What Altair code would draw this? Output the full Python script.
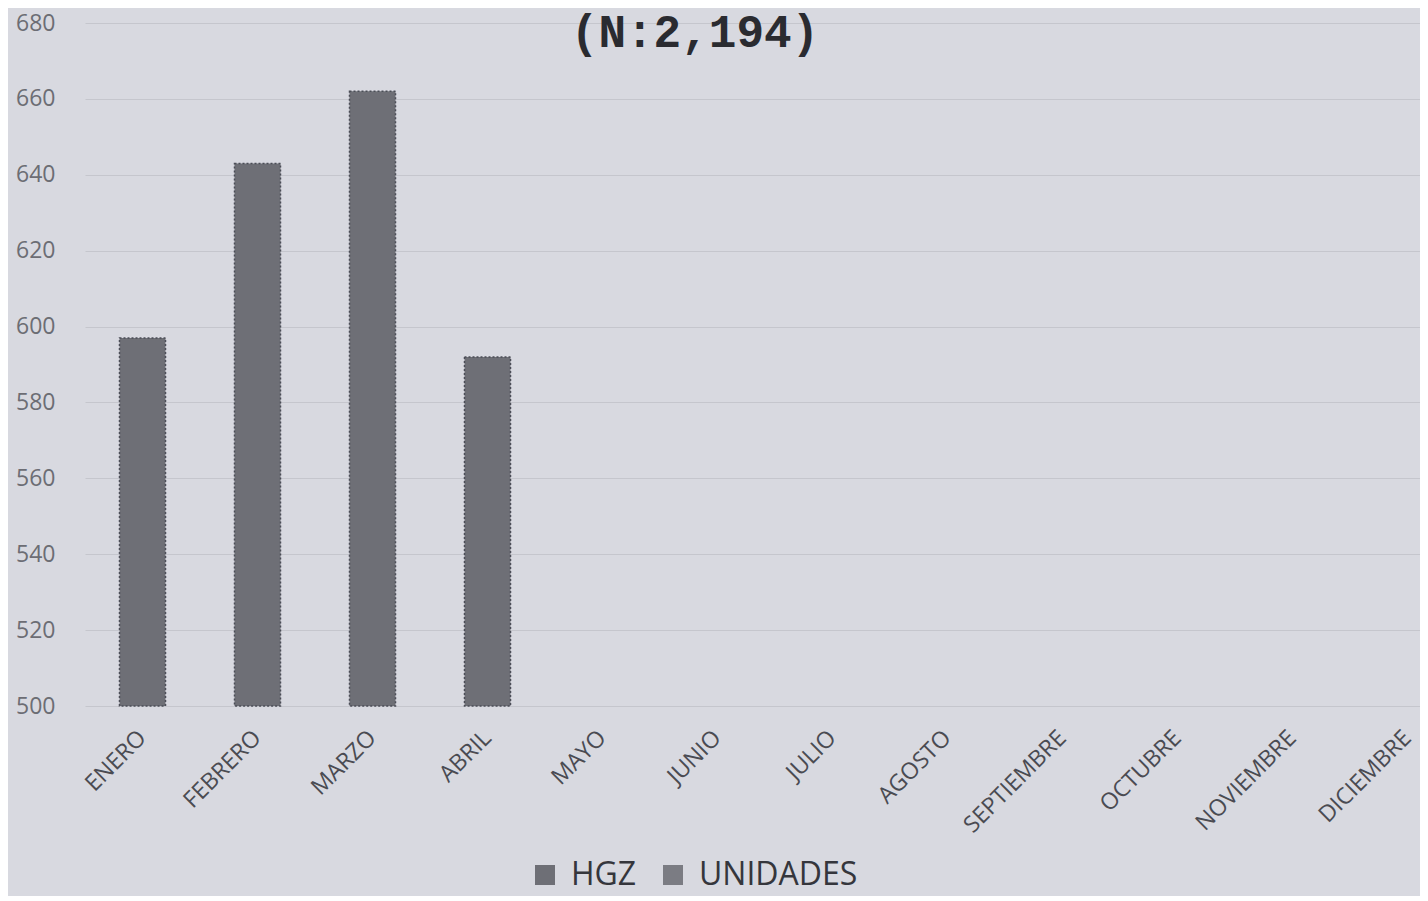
import altair as alt
import pandas as pd

months = ["ENERO", "FEBRERO", "MARZO", "ABRIL", "MAYO", "JUNIO", "JULIO",
          "AGOSTO", "SEPTIEMBRE", "OCTUBRE", "NOVIEMBRE", "DICIEMBRE"]
bar_months = ["ENERO", "FEBRERO", "MARZO", "ABRIL"]
hgz_values = [597, 643, 662, 592]
series_names = ["HGZ", "UNIDADES"]
y_ticks = [500, 520, 540, 560, 580, 600, 620, 640, 660, 680]
title_text = "(N:2,194)"

df = pd.DataFrame({"mes": bar_months, "valor": hgz_values, "serie": ["HGZ"] * len(bar_months)})

xscale = alt.Scale(domain=months, range=[5, 1385], paddingInner=0.6, paddingOuter=0.3)

bars = alt.Chart(df).mark_bar(
    stroke="#4b4e57", strokeWidth=1.5, strokeDash=[2, 2]
).encode(
    x=alt.X("mes:N", scale=xscale, sort=months,
            axis=alt.Axis(title=None, labelAngle=315, labelAlign="right", labelBaseline="middle",
                          labelPadding=28, ticks=False, domain=False, grid=False,
                          labelFont="Open Sans", labelFontSize=23, labelColor="#4a4b52")),
    y=alt.Y("valor:Q", scale=alt.Scale(domain=[500, 680], zero=False, nice=False),
            axis=alt.Axis(title=None, values=y_ticks, ticks=False, domain=False,
                          grid=True, gridColor="#c5c6cd", gridWidth=1,
                          labelFont="Open Sans", labelFontSize=23, labelColor="#6c6d74",
                          labelPadding=25)),
    y2=alt.datum(500),
    color=alt.Color("serie:N",
                    scale=alt.Scale(domain=series_names, range=["#6e6f76", "#7b7c83"]),
                    legend=alt.Legend(title=None, orient="none", legendX=449, legendY=836,
                                      direction="horizontal", symbolType="square",
                                      symbolSize=400, symbolStrokeWidth=0,
                                      labelFont="Open Sans", labelFontSize=32,
                                      labelColor="#35363c", columnPadding=20,
                                      labelOffset=10, labelLimit=0, symbolOpacity=1)),
)

title_df = pd.DataFrame({"t": [title_text]})
title = alt.Chart(title_df).mark_text(
    font="Liberation Mono", fontWeight="bold", fontSize=46, color="#2a2b30",
    align="center", baseline="alphabetic"
).encode(text="t:N", x=alt.value(615), y=alt.value(24))

chart = alt.layer(bars, title).properties(
    width=1340, height=683,
    autosize=alt.AutoSizeParams(type="none"),
    padding={"left": 72, "top": 15, "right": 0, "bottom": 190},
    background="#d8d9e0",
).configure_view(stroke=None)

chart.save("out.html", embed_options={"renderer": "svg", "actions": False})
